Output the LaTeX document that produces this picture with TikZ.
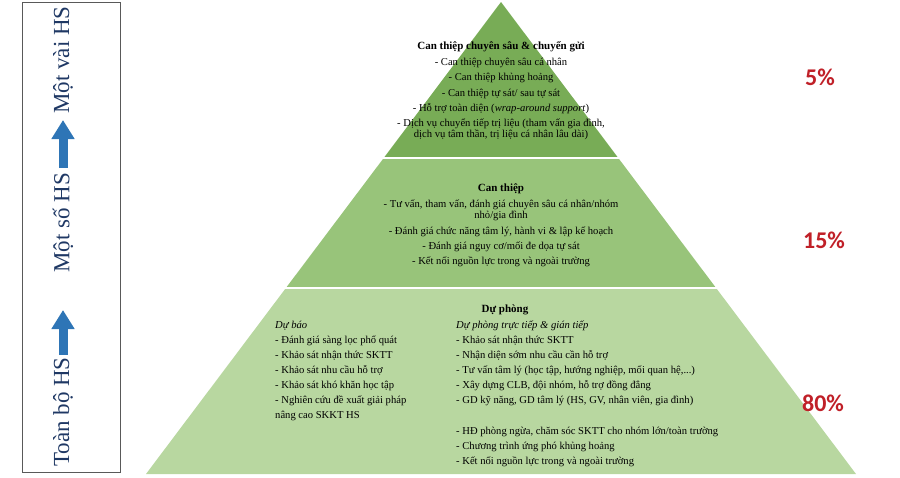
\documentclass[tikz,border=0pt]{standalone}
\usepackage{fontspec}
\setmainfont{Liberation Serif}
\newfontfamily\pctfont{Carlito}
\usetikzlibrary{positioning, arrows.meta}

\definecolor{tiertop}{RGB}{120,172,86}
\definecolor{tiermid}{RGB}{152,196,122}
\definecolor{tierbase}{RGB}{184,215,160}
\definecolor{pctred}{RGB}{192,32,40}
\definecolor{sidenavy}{RGB}{31,56,100}
\definecolor{sideblue}{RGB}{46,117,182}

\begin{document}
\begin{tikzpicture}[
      x=1pt, y=-1pt,
      % Styles
      gap/.style={draw=white, line width=2.2pt},
      tiertext/.style={
        align=center, inner sep=0pt,
        font=\fontsize{10.6}{11.3}\selectfont
      },
      coltext/.style={
        align=left, inner sep=0pt, anchor=north west,
        font=\fontsize{10.6}{15.1}\selectfont
      },
      pct/.style={
        text=pctred, inner sep=0pt,
        font=\pctfont\bfseries\fontsize{24}{24}\selectfont
      },
      sidelabel/.style={
        rotate=90, text=sidenavy, inner sep=1pt,
        font=\fontsize{23}{23}\selectfont
      },
      up_arrow/.style={
        -{Triangle[width=22pt,length=19pt]},
        line width=9pt, draw=sideblue
      }
    ]
    \useasboundingbox (0,0) rectangle (900,477);

    % --- 1. PYRAMID ---
    \coordinate (apex) at (501,2);
    \coordinate (l1) at (383.7,158);
    \coordinate (r1) at (618.3,158);
    \coordinate (l2) at (285.9,288);
    \coordinate (r2) at (716.1,288);
    \coordinate (l3) at (146,474);
    \coordinate (r3) at (856,474);

    \fill[tiertop] (apex) -- (r1) -- (l1) -- cycle;
    \fill[tiermid] (l1) -- (r1) -- (r2) -- (l2) -- cycle;
    \fill[tierbase] (l2) -- (r2) -- (r3) -- (l3) -- cycle;
    \draw[gap] ([xshift=-3pt]l1) -- ([xshift=3pt]r1);
    \draw[gap] ([xshift=-3pt]l2) -- ([xshift=3pt]r2);

    % --- 2. TIER TEXTS ---

    % Top tier
    \node[tiertext, anchor=north] (toptxt) at (501,41.5) {
      \textbf{\fontsize{11}{11.3}\selectfont Can thiệp chuyên sâu \& chuyển gửi}\\[4.2pt]
      - Can thiệp chuyên sâu cá nhân\\[4.2pt]
      - Can thiệp khủng hoảng\\[4pt]
      - Can thiệp tự sát/ sau tự sát\\[4pt]
      - Hỗ trợ toàn diện (\textit{wrap-around support})\\[4pt]
      - Dịch vụ chuyển tiếp trị liệu (tham vấn gia đình,\\
      dịch vụ tâm thần, trị liệu cá nhân lâu dài)
    };

    % Middle tier
    \node[tiertext, anchor=north] (midtxt) at (501,184) {
      \textbf{\fontsize{11}{11.3}\selectfont Can thiệp}\\[4.2pt]
      - Tư vấn, tham vấn, đánh giá chuyên sâu cá nhân/nhóm\\
      nhỏ/gia đình\\[4pt]
      - Đánh giá chức năng tâm lý, hành vi \& lập kế hoạch\\[4pt]
      - Đánh giá nguy cơ/mối đe dọa tự sát\\[4pt]
      - Kết nối nguồn lực trong và ngoài trường
    };

    % Base tier
    \node[tiertext, anchor=north] (basetitle) at (505,305) {\textbf{\fontsize{11}{11.3}\selectfont Dự phòng}};
    \node[coltext] (forecast) at (275,320.5) {
      \textit{Dự báo}\\
      - Đánh giá sàng lọc phổ quát\\
      - Khảo sát nhận thức SKTT\\
      - Khảo sát nhu cầu hỗ trợ\\
      - Khảo sát khó khăn học tập\\
      - Nghiên cứu đề xuất giải pháp\\
      nâng cao SKKT HS
    };
    \node[coltext] (prevent) at (456,320.5) {
      \textit{Dự phòng trực tiếp \& gián tiếp}\\
      - Khảo sát nhận thức SKTT\\
      - Nhận diện sớm nhu cầu cần hỗ trợ\\
      - Tư vấn tâm lý (học tập, hướng nghiệp, mối quan hệ,...)\\
      - Xây dựng CLB, đội nhóm, hỗ trợ đồng đẳng\\
      - GD kỹ năng, GD tâm lý (HS, GV, nhân viên, gia đình)\\[15.1pt]
      - HĐ phòng ngừa, chăm sóc SKTT cho nhóm lớn/toàn trường\\
      - Chương trình ứng phó khủng hoảng\\
      - Kết nối nguồn lực trong và ngoài trường
    };

    % --- 3. PERCENTAGES ---
    \node[pct] (p5) at (820,77) {5\%};
    \node[pct] (p15) at (824,240) {15\%};
    \node[pct] (p80) at (823,403) {80\%};

    % --- 4. SIDE PANEL ---
    \node[draw=black!65, line width=0.6pt, minimum width=98pt, minimum height=470pt,
          inner sep=0pt] (panel) at (71,237) {};

    \node[sidelabel] (all) at (63,412) {Toàn bộ HS};
    \node[sidelabel] (some) at (63,223) {Một số HS};
    \node[sidelabel] (few) at (63,60) {Một vài HS};

    \coordinate (up1) at (63,310);
    \coordinate (up2) at (63,120);
    \draw[up_arrow] ([yshift=1pt]all.east) -- (up1);
    \draw[up_arrow] ([yshift=4pt]some.east) -- (up2);

    \end{tikzpicture}
\end{document}
